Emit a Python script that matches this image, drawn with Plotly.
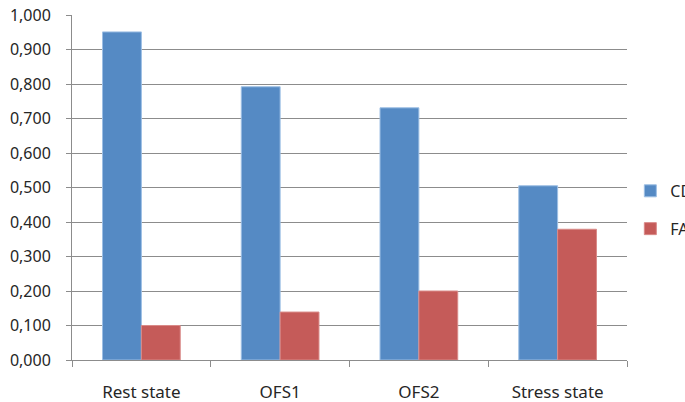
import plotly.graph_objects as go

categories = ["Rest state", "OFS1", "OFS2", "Stress state"]
cd_values = [0.951, 0.792, 0.731, 0.505]
fa_values = [0.100, 0.139, 0.200, 0.379]
y_ticks = [0.0, 0.1, 0.2, 0.3, 0.4, 0.5, 0.6, 0.7, 0.8, 0.9, 1.0]

font = dict(family="Noto Sans", size=16, color="#262626")

fig = go.Figure()
fig.add_trace(go.Bar(x=categories, y=cd_values, name="CDI", marker=dict(color="#558AC4", line=dict(color="#9DBFE4", width=1)), legendgroup="a"))
fig.add_trace(go.Bar(x=categories, y=fa_values, name="FAI", marker=dict(color="#C55B59", line=dict(color="#D98A88", width=1)), legendgroup="b"))

fig.update_layout(
    width=685, height=402,
    margin=dict(l=72, r=58, t=15, b=42, autoexpand=False),
    paper_bgcolor="white", plot_bgcolor="white",
    separators=", ",
    barmode="group", bargap=0.44, bargroupgap=0,
    font=font,
    legend=dict(x=1.006, y=0.435, xanchor="left", yanchor="middle",
                traceorder="grouped", tracegroupgap=14,
                font=dict(family="Noto Sans", size=16, color="#262626"),
                itemwidth=30),
    showlegend=True,
)
fig.update_yaxes(range=[0, 1.0], tickvals=y_ticks, tickformat=".3f",
                 showgrid=True, gridcolor="#8C8C8C", gridwidth=1,
                 showline=True, linecolor="#8C8C8C", linewidth=1,
                 ticks="outside", ticklen=5, tickcolor="#8C8C8C",
                 ticklabelstandoff=12, ticklabeloverflow="allow",
                 zeroline=False, tickfont=dict(size=16))
fig.update_xaxes(showline=True, linecolor="#8C8C8C", linewidth=1,
                 ticks="outside", ticklen=6, tickcolor="#8C8C8C",
                 tickson="boundaries", ticklabelstandoff=17,
                 tickfont=dict(size=17))

fig.write_html("out.html", config={"displayModeBar": False},
               post_script="document.body.style.margin='0';")
